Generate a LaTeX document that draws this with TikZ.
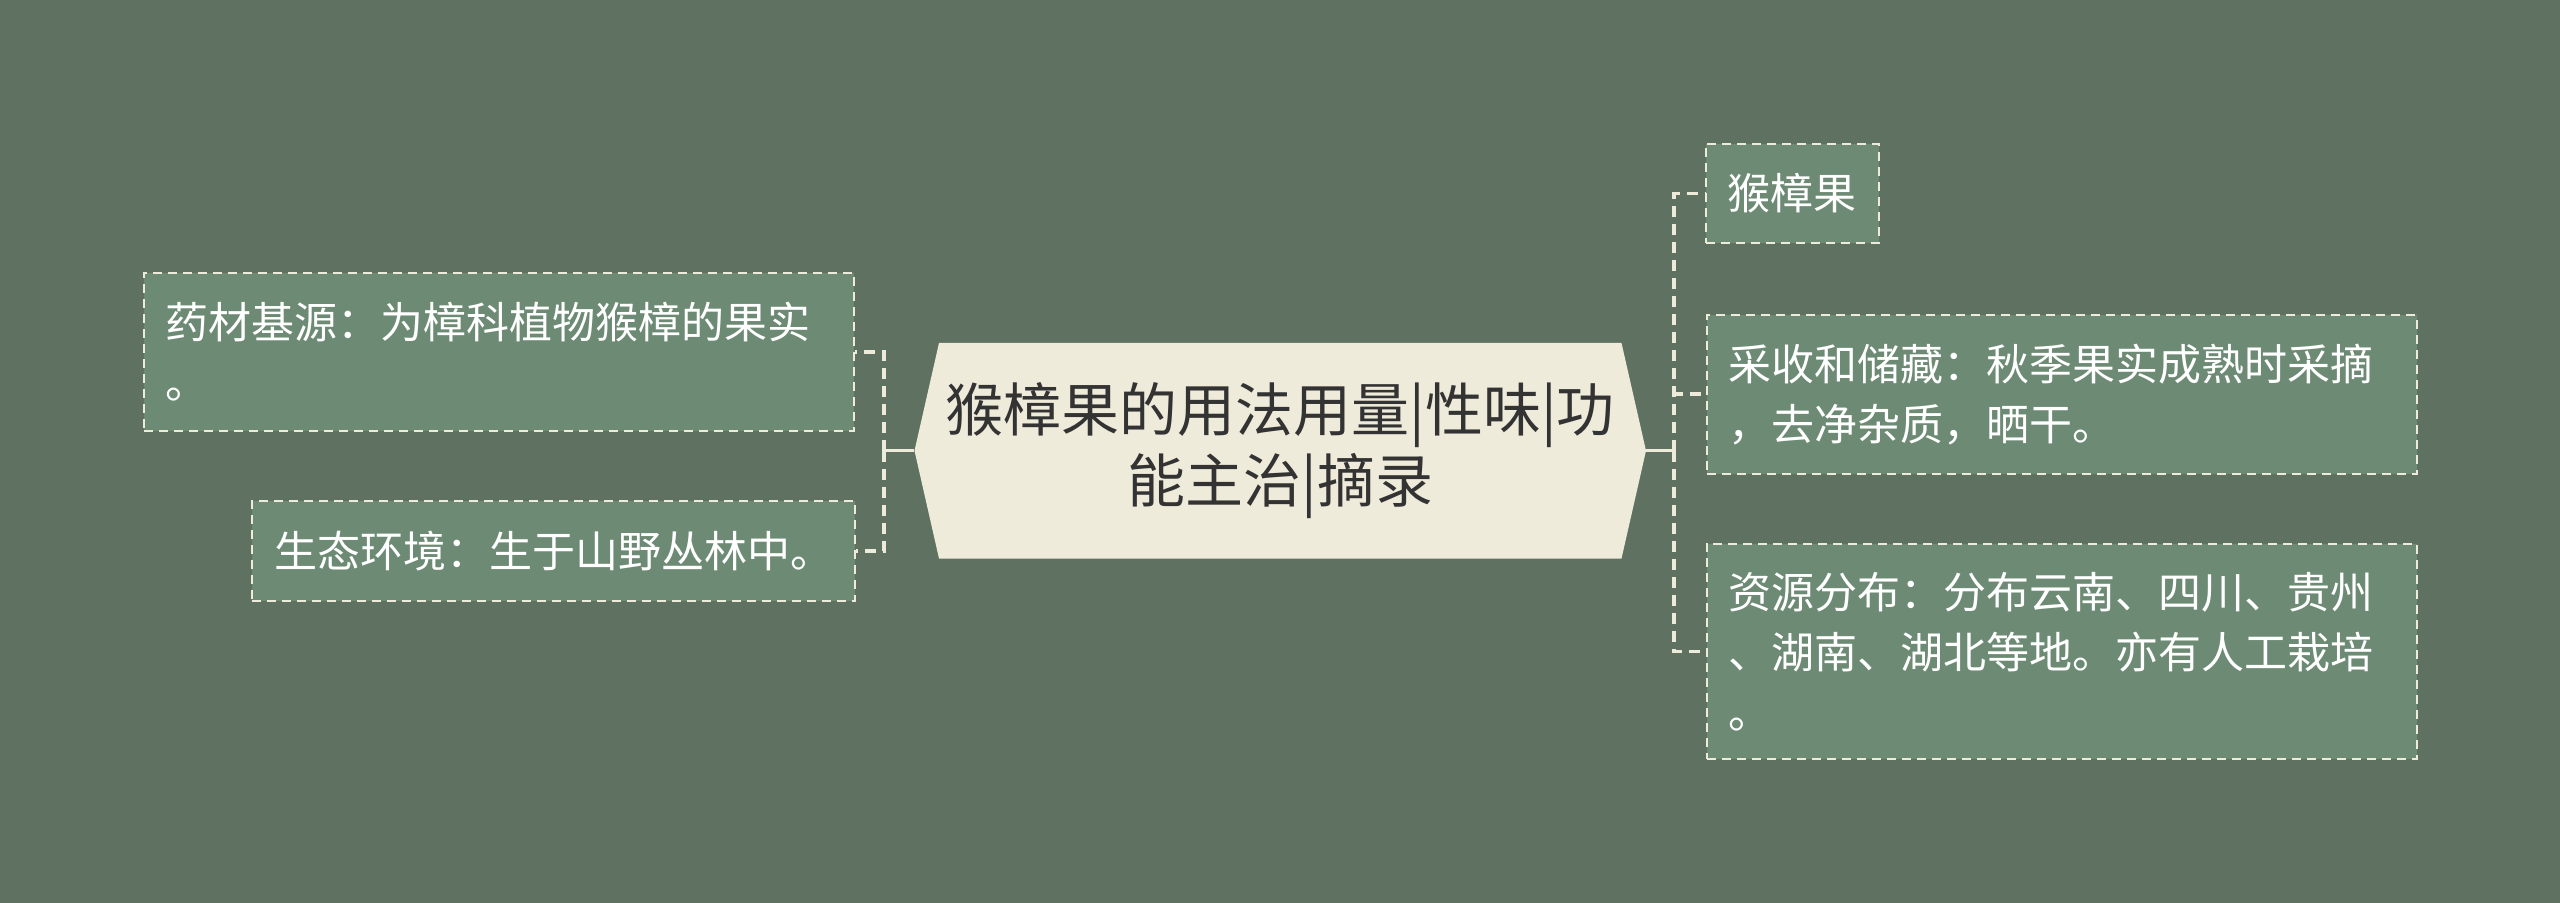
\documentclass[tikz,border=0pt]{standalone}
\usepackage{fontspec}
\setmainfont{Noto Sans CJK SC}
\definecolor{bgcol}{RGB}{95,114,98}
\definecolor{boxcol}{RGB}{109,139,116}
\definecolor{creamcol}{RGB}{239,235,219}
\definecolor{inkcol}{RGB}{51,51,51}
\begin{document}
\begin{tikzpicture}[x=0.5pt,y=-0.5pt,
    leaf/.style={draw=creamcol,fill=boxcol,line width=1pt,dash pattern=on 4.5pt off 3pt,
        text=white,inner xsep=11pt,inner ysep=0pt,align=left,
        font=\fontsize{21.5}{30}\selectfont},
    wideleaf/.style={leaf,text width=333pt},
    link/.style={draw=creamcol,line width=1.8pt,dash pattern=on 5.5pt off 3.5pt},
    stem/.style={draw=creamcol,line width=1.6pt}]
    \fill[bgcol] (0,0) rectangle (2560,903);
    \useasboundingbox (0,0) rectangle (2560,903);
    \fill[creamcol] (914.5,450.75) -- (939,343) -- (1621.5,343) -- (1646,450.75)
        -- (1621.5,558.5) -- (939,558.5) -- cycle;
    \node[minimum width=365.75pt,minimum height=107.75pt,inner sep=0pt,align=center,
        text=inkcol,font=\fontsize{29}{35.5}\selectfont] (hub) at (1280.25,450.75)
        {猴樟果的用法用量|性味|功\\能主治|摘录};
    \node[wideleaf,minimum height=79.2pt] (src) at (498.9,351.9)
        {药材基源：为樟科植物猴樟的果实\\。};
    \node[leaf,minimum height=50pt] (env) at (553.5,551)
        {生态环境：生于山野丛林中。};
    \node[leaf,minimum height=49.8pt] (fruit) at (1792.3,193.5) {猴樟果};
    \node[wideleaf,minimum height=79.3pt] (harvest) at (2061.8,394.3)
        {采收和储藏：秋季果实成熟时采摘\\，去净杂质，晒干。};
    \node[wideleaf,minimum height=107.75pt] (dist) at (2061.8,651.5)
        {资源分布：分布云南、四川、贵州\\、湖南、湖北等地。亦有人工栽培\\。};
    \coordinate (lj) at (884,450.75);
    \coordinate (rj) at (1674,450.75);
    \draw[stem] (hub.west) -- (lj);
    \foreach \b in {src,env}
    \draw[link] (lj) |- (\b.east);
    \draw[stem] (hub.east) -- (rj);
    \foreach \b in {fruit,harvest,dist}
    \draw[link] (rj) |- (\b.west);
\end{tikzpicture}
\end{document}
